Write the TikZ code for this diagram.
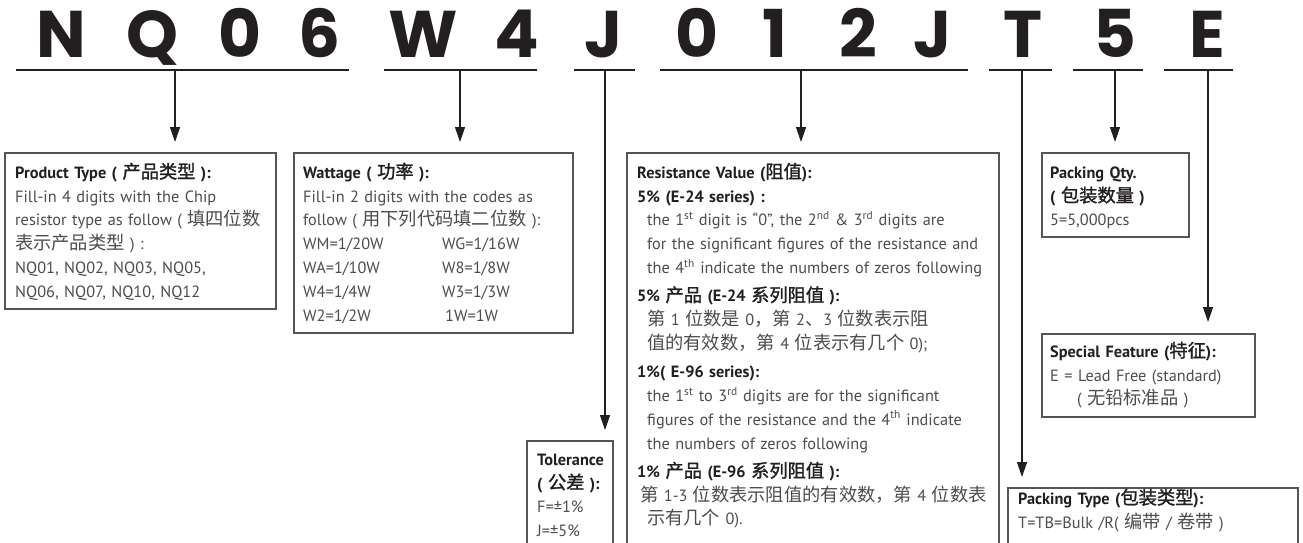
\documentclass[tikz,border=0pt]{standalone}
\usepackage{fontspec}
\setmainfont{PT Sans}
\newfontfamily\cjk[Scale=1.12, BoldFont={Noto Sans CJK SC}, BoldFeatures={FakeBold=1.4}]{Noto Sans CJK SC}
\newfontfamily\codefont{Poppins}
\usetikzlibrary{arrows.meta,calc}
\definecolor{ink}{HTML}{231F20}
\definecolor{bodyc}{HTML}{4D4D4D}
\definecolor{framec}{HTML}{555555}
\newcommand{\zh}[1]{{\cjk #1}}
\newcommand{\fl}{\rule{0pt}{17pt}}
\newcommand{\hd}[1]{\textcolor{ink}{\bfseries #1}}
\newcommand{\ind}{\hspace*{10pt}}
\tikzset{
  boxframe/.style={draw=framec, line width=1.4pt, inner sep=0pt, outer sep=0pt, anchor=north west},
  txt/.style={anchor=north west, inner sep=0pt, text width=#1, align=left,
              font=\fontsize{16.3}{23.8}\selectfont, text=bodyc},
  code/.style={anchor=base, font=\codefont\bfseries\fontsize{66}{66}\selectfont, text=ink, inner sep=0pt},
  uline/.style={ink, line width=1.8pt},
  arr/.style={ink, line width=1.3pt, -{Triangle[length=15pt,width=10pt]}, shorten >=11pt},
}
\begin{document}
\begin{tikzpicture}[x=1pt,y=-1pt]
\useasboundingbox (0,0) rectangle (1303,542);
\fill[white] (0,0) rectangle (1303,542);

% code letters
\node[code] (cN)  at (61,57)  {N};
\node[code] (cQ)  at (153,57) {Q};
\node[code] (c0a) at (240,57) {0};
\node[code] (c6)  at (320,57) {6};
\node[code] (cW)  at (423,57) {W};
\node[code] (c4)  at (517,57) {4};
\node[code] (cJa) at (604,57) {J};
\node[code] (c0b) at (697,57) {0};
\node[code] (c1)  at (775,57) {1};
\node[code] (c2)  at (858,57) {2};
\node[code] (cJb) at (933,57) {J};
\node[code] (cT)  at (1023,57) {T};
\node[code] (c5)  at (1115,57) {5};
\node[code] (cE)  at (1207,57) {E};

% underlines
\draw[uline] (16,70) -- (349,70);
\draw[uline] (384,70) -- (537,70);
\draw[uline] (574,70) -- (635,70);
\draw[uline] (660,70) -- (968,70);
\draw[uline] (989,70) -- (1052,70);
\draw[uline] (1073,70) -- (1143,70);
\draw[uline] (1164,70) -- (1233,70);
\coordinate (t1) at (175,70);
\coordinate (t2) at (460,70);
\coordinate (t3) at (605,70);
\coordinate (t4) at (801,70);
\coordinate (t5) at (1022,70);
\coordinate (t6) at (1115,70);
\coordinate (t7) at (1208,70);

% boxes
\node[boxframe, minimum width=271pt, minimum height=156pt] (prod) at (5,153) {};
\node[boxframe, minimum width=279pt, minimum height=180pt] (watt) at (294,153) {};
\node[boxframe, minimum width=372pt, minimum height=420pt] (res) at (627,153) {};
\node[boxframe, minimum width=86pt, minimum height=150pt] (tol) at (527,441) {};
\node[boxframe, minimum width=147pt, minimum height=84pt] (pqty) at (1042,153) {};
\node[boxframe, minimum width=213pt, minimum height=83pt] (spec) at (1042,334) {};
\node[boxframe, minimum width=290pt, minimum height=100pt] (ptype) at (1008,488) {};

% texts
\node[txt=265pt] (prodt) at ($(prod.north west)+(10,8)$) {\fl\hd{Product Type ( \zh{产品类型} ):}\\
Fill-in 4 digits with the Chip\\
resistor type as follow ( \zh{填四位数}\\
\zh{表示产品类型} ) :\\
NQ01, NQ02, NQ03, NQ05,\\
NQ06, NQ07, NQ10, NQ12};

\node[txt=270pt] (wattt) at ($(watt.north west)+(9,8)$) {\fl\hd{Wattage ( \zh{功率} ):}\\
Fill-in 2 digits with the codes as\\
follow ( \zh{用下列代码填二位数} ):\\
\makebox[139pt][l]{WM=1/20W}WG=1/16W\\
\makebox[139pt][l]{WA=1/10W}W8=1/8W\\
\makebox[139pt][l]{W4=1/4W}W3=1/3W\\
\makebox[142pt][l]{W2=1/2W}1W=1W};

\node[txt=365pt] (rest) at ($(res.north west)+(10,8)$) {\fl\hd{Resistance Value (\zh{阻值}):}\\
\hd{5\% (E-24 series) :}\\
\ind the 1\textsuperscript{st} digit is “0”, the 2\textsuperscript{nd} \& 3\textsuperscript{rd} digits are\\
\ind for the significant figures of the resistance and\\
\ind the 4\textsuperscript{th} indicate the numbers of zeros following\\[4.5pt]
\hd{5\% \zh{产品} (E-24 \zh{系列阻值} ):}\\
\ind\zh{第} 1 \zh{位数是} 0\zh{，第} 2\zh{、}3 \zh{位数表示阻}\\
\ind\zh{值的有效数，第} 4 \zh{位表示有几个} 0);\\[4.5pt]
\hd{1\%( E-96 series):}\\
\ind the 1\textsuperscript{st} to 3\textsuperscript{rd} digits are for the significant\\
\ind figures of the resistance and the 4\textsuperscript{th} indicate\\
\ind the numbers of zeros following\\[4.5pt]
\hd{1\% \zh{产品} (E-96 \zh{系列阻值} ):}\\
\hspace*{3pt}\zh{第} 1-3 \zh{位数表示阻值的有效数，第} 4 \zh{位数表}\\
\ind\zh{示有几个} 0).};

\node[txt=80pt] (tolt) at ($(tol.north west)+(10,7)$) {\fl\hd{Tolerance}\\
\hd{( \zh{公差} ):}\\
F=±1\%\\
J=±5\%};

\node[txt=140pt] (pqtyt) at ($(pqty.north west)+(8,8)$) {\fl\hd{Packing Qty.}\\
\hd{( \zh{包装数量} )}\\
5=5,000pcs};

\node[txt=205pt] (spect) at ($(spec.north west)+(8,6)$) {\fl\hd{Special Feature (\zh{特征}):}\\
E = Lead Free (standard)\\
\hspace*{27pt}( \zh{无铅标准品} )};

\node[txt=280pt] (ptypet) at ($(ptype.north west)+(10,-1)$) {\fl\hd{Packing Type (\zh{包装类型}):}\\
T=TB=Bulk /R( \zh{编带} / \zh{卷带} )};

% arrows
\draw[arr] (t1) -- (t1 |- prod.north);
\draw[arr] (t2) -- (t2 |- watt.north);
\draw[arr] (t3) -- (t3 |- tol.north);
\draw[arr] (t4) -- (t4 |- res.north);
\draw[arr] (t5) -- (t5 |- ptype.north);
\draw[arr] (t6) -- (t6 |- pqty.north);
\draw[arr, shorten >=12pt] (t7) -- (t7 |- spec.north);
\end{tikzpicture}
\end{document}
